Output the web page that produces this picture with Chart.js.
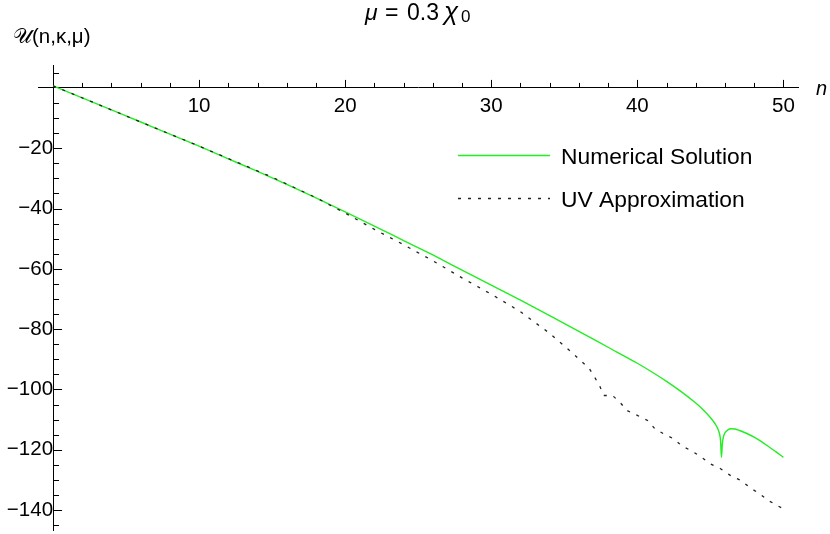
<!DOCTYPE html>
<html>
<head>
<meta charset="utf-8">
<script src="https://cdn.jsdelivr.net/npm/chart.js@4"></script>
<style>
html,body{margin:0;padding:0;background:#fff;}
#wrap{width:830px;height:534px;position:relative;}
</style>
</head>
<body>
<div id="wrap"><canvas id="c" width="830" height="534"></canvas></div>
<script>
// ---- data ----
const nNum = [0, 2, 4, 6, 8, 10, 12, 14, 16, 18, 20, 22, 24, 26, 28, 30, 32, 34, 36, 38, 40, 41, 42, 43, 44, 44.5, 45, 45.3, 45.5, 45.62, 45.7, 45.76, 45.82, 45.9, 46.0, 46.2, 46.4, 46.7, 47, 47.5, 48, 48.5, 49, 49.5, 50];
const uNum = [0.7, -3.3, -7.3, -11.3, -15.3, -19.3, -23.5, -27.7, -32.0, -36.5, -41.1, -45.8, -50.6, -55.4, -60.4, -65.4, -70.4, -75.5, -80.7, -86.0, -91.3, -94.2, -97.3, -100.7, -104.5, -106.7, -109.3, -111.2, -112.9, -114.6, -117.0, -122.5, -118.0, -115.6, -114.4, -113.4, -113.0, -113.1, -113.6, -114.6, -115.8, -117.3, -119.0, -120.7, -122.5];
const nUV = [0, 5, 10, 15, 18, 20, 22, 24, 26, 28, 30, 32, 34, 35.6, 36.2, 36.7, 37.0, 37.4, 37.7, 38.3, 38.8, 39.3, 40, 40.7, 41.2, 41.8, 42.5, 43.1, 43.7, 44.4, 45, 45.7, 46.4, 47.1, 47.7, 48.4, 49, 49.7, 50];
const uUV = [0.7, -9.3, -19.3, -29.6, -36.4, -41.5, -46.9, -52.0, -57.3, -63.0, -68.4, -74.2, -81.4, -88.1, -90.8, -93.0, -95.3, -98.6, -102.0, -102.0, -104.2, -107.0, -108.6, -110.3, -113.0, -114.7, -116.4, -118.9, -120.3, -122.5, -124.7, -126.3, -128.6, -130.2, -132.5, -134.7, -136.9, -138.8, -139.6];
const seriesNames = ['Numerical Solution', 'UV Approximation'];
const xTicks = [2, 4, 6, 8, 10, 12, 14, 16, 18, 20, 22, 24, 26, 28, 30, 32, 34, 36, 38, 40, 42, 44, 46, 48, 50];
const xLabelled = [10, 20, 30, 40, 50];
const yTicks = [5, -5, -10, -15, -20, -25, -30, -35, -40, -45, -50, -55, -60, -65, -70, -75, -80, -85, -90, -95, -100, -105, -110, -115, -120, -125, -130, -135, -140, -145];
const yLabelled = [-20, -40, -60, -80, -100, -120, -140];
const titleText = ['μ', '=', '0.3', 'χ', '0'];
const yTitle = '𝒰(n,κ,μ)';
const xTitle = 'n';

const FONT = '"Liberation Sans", Arial, sans-serif';

function fmt(v){ return v < 0 ? '\u2212' + Math.abs(v) : String(v); }

function drawRuns(ctx, y, runs){
  for (const r of runs){
    ctx.font = (r.italic ? 'italic ' : '') + r.size + 'px ' + FONT;
    ctx.fillText(r.t, r.x, y + (r.dy || 0));
  }
}

const axisDeco = {
  id: 'axisDeco',
  afterDraw(chart){
    const ctx = chart.ctx, xs = chart.scales.x, ys = chart.scales.y;
    const y0 = ys.getPixelForValue(0), x0 = xs.getPixelForValue(0);
    ctx.save();
    ctx.strokeStyle = '#000'; ctx.lineWidth = 1;
    ctx.beginPath();
    for (const t of xs.ticks){
      const px = Math.round(xs.getPixelForValue(t.value)) + 0.5;
      const len = xLabelled.includes(t.value) ? 8 : 5;
      ctx.moveTo(px, y0); ctx.lineTo(px, y0 - len);
    }
    for (const t of ys.ticks){
      const py = Math.round(ys.getPixelForValue(t.value)) + 0.5;
      const len = yLabelled.includes(t.value) ? 9 : 6;
      ctx.moveTo(x0, py); ctx.lineTo(x0 + len, py);
    }
    ctx.stroke();
    // texts
    ctx.fillStyle = '#000';
    ctx.textBaseline = 'alphabetic'; ctx.textAlign = 'left';
    drawRuns(ctx, 20, [
      {t: titleText[0], italic: true, size: 23, x: 365},
      {t: titleText[1], size: 23, x: 385},
      {t: titleText[2], size: 23, x: 407},
      {t: titleText[3], italic: true, size: 26, x: 444},
      {t: titleText[4], size: 17, x: 461, dy: 2}
    ]);
    drawRuns(ctx, 43, [{t: yTitle, size: 20.5, x: 13}]);
    drawRuns(ctx, 95, [{t: xTitle, italic: true, size: 20, x: 816}]);
    // legend from datasets
    const ds = chart.data.datasets;
    const rows = [158, 201];
    ds.forEach((d, i) => {
      const ly = rows[i];
      ctx.beginPath();
      ctx.strokeStyle = d.borderColor; ctx.lineWidth = d.borderWidth;
      ctx.setLineDash(d.borderDash || []);
      ctx.moveTo(458, Math.round(ly) - 2.5); ctx.lineTo(550, Math.round(ly) - 2.5);
      ctx.stroke();
      ctx.setLineDash([]);
      ctx.font = '22.8px ' + FONT; ctx.textBaseline = 'middle';
      ctx.fillText(d.label, 561, ly);
    });
    ctx.restore();
  }
};

new Chart(document.getElementById('c'), {
  type: 'line',
  data: {
    datasets: [
      { label: seriesNames[0], data: nNum.map((n, i) => ({x: n, y: uNum[i]})),
        borderColor: '#22ee22', borderWidth: 1.4, pointRadius: 0, cubicInterpolationMode: 'monotone', order: 1, fill: false },
      { label: seriesNames[1], data: nUV.map((n, i) => ({x: n, y: uUV[i]})),
        borderColor: '#222222', borderWidth: 1.3, borderDash: [3, 7], pointRadius: 0, tension: 0, order: 0, fill: false }
    ]
  },
  options: {
    responsive: false,
    animation: false,
    events: [],
    layout: { padding: { left: 38, right: 32, top: 65, bottom: 4 } },
    plugins: { legend: { display: false }, tooltip: { enabled: false }, title: { display: false } },
    scales: {
      x: {
        type: 'linear', axis: 'x', position: { y: 0 }, min: -1.03, max: 51.0,
        afterBuildTicks: s => { s.ticks = xTicks.map(v => ({value: v})); },
        afterFit: s => { s.height = 0; s.paddingLeft = 0; s.paddingRight = 0; },
        grid: { display: false, drawTicks: false },
        border: { display: true, color: '#000', width: 1 },
        ticks: { autoSkip: false, maxRotation: 0, padding: 6, color: '#000',
          font: { family: FONT, size: 20.5 },
          callback: v => xLabelled.includes(v) ? fmt(v) : '' }
      },
      y: {
        type: 'linear', axis: 'y', position: { x: 0 }, min: -146.6, max: 7.6,
        afterBuildTicks: s => { s.ticks = yTicks.map(v => ({value: v})); },
        afterFit: s => { s.width = 0; s.paddingTop = 0; s.paddingBottom = 0; },
        grid: { display: false, drawTicks: false },
        border: { display: true, color: '#000', width: 1 },
        ticks: { autoSkip: false, padding: 8, color: '#000',
          font: { family: FONT, size: 20.5 },
          callback: v => yLabelled.includes(v) ? fmt(v) : '' }
      }
    }
  },
  plugins: [axisDeco]
});
</script>
</body>
</html>
